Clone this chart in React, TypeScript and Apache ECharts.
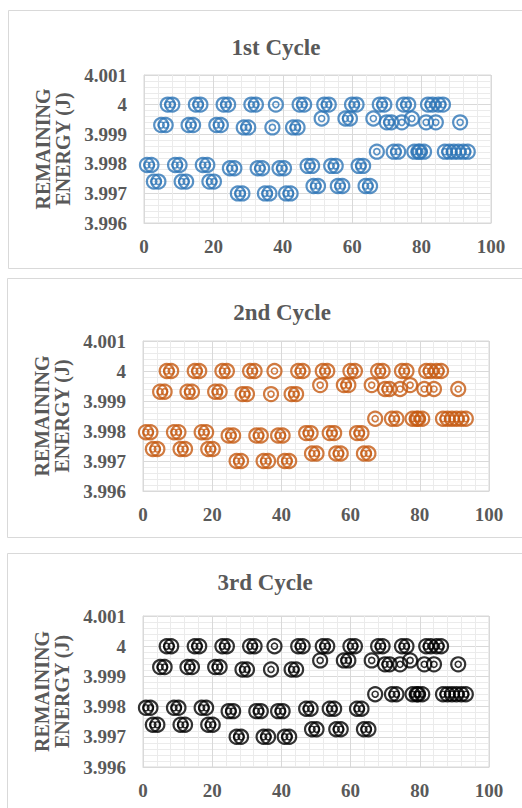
import React, { useEffect, useRef } from "react";
import * as echarts from "echarts";

const cycleTitles = ["1st Cycle", "2nd Cycle", "3rd Cycle"];
const cycleColors = ["#2E75B6", "#C55A11", "#000000"];
const yAxisName = "REMAINING\nENERGY (J)";

// point levels (remaining energy, J) and the x positions of the points on each
const levelA = 4.0;
const xsA = [6.85, 8.15, 14.95, 16.25, 22.95, 24.25, 30.95, 32.25, 38.0, 44.85, 46.15, 51.95, 53.25, 59.95, 61.25, 67.95, 69.25, 74.85, 76.15, 81.85, 83.15, 84.85, 86.15];
const levelB1 = 3.99931;
const xsB1 = [4.95, 6.25, 12.85, 14.15, 20.85, 22.15];
const levelB2 = 3.99923;
const xsB2 = [28.75, 30.05, 37.0, 42.95, 44.25];
const levelB3 = 3.99953;
const xsB3 = [51.2, 58.05, 59.35, 66.1, 77.2];
const levelB4 = 3.9994;
const xsB4 = [69.95, 71.25, 74.3, 81.3, 84.1, 91.1];
const levelF = 3.99841;
const xsF = [67.1, 71.95, 73.25, 77.9, 79.1, 79.5, 80.7, 86.7, 88.0, 89.3, 90.6, 92.0, 93.3];
const levelC1 = 3.99796;
const xsC1 = [0.85, 2.15, 8.95, 10.25, 16.95, 18.25];
const levelC2 = 3.99785;
const xsC2 = [24.75, 26.05, 32.75, 34.05, 39.05, 40.35];
const levelC3 = 3.99793;
const xsC3 = [47.15, 48.45, 53.95, 55.25, 61.85, 63.15];
const levelD1 = 3.9974;
const xsD1 = [2.85, 4.15, 10.85, 12.15, 18.85, 20.15];
const levelD2 = 3.99725;
const xsD2 = [48.85, 50.15, 55.85, 57.15, 63.85, 65.15];
const levelE = 3.997;
const xsE = [27.05, 28.35, 34.85, 36.15, 40.95, 42.25];

const yMin = 3.996;
const yMax = 4.001;
const yStep = 0.001;
const xMin = 0;
const xMax = 100;
const xStep = 20;

const levels: [number, number[]][] = [
  [levelA, xsA], [levelB1, xsB1], [levelB2, xsB2], [levelB3, xsB3], [levelB4, xsB4],
  [levelF, xsF], [levelC1, xsC1], [levelC2, xsC2], [levelC3, xsC3],
  [levelD1, xsD1], [levelD2, xsD2], [levelE, xsE],
];

const points: number[][] = [];
levels.forEach(([y, xs]) => xs.forEach((x) => points.push([x, y])));

const FONT = "'Liberation Serif', 'Times New Roman', serif";
const TXT = "#595959";

export default function App() {
  const ref = useRef<HTMLDivElement>(null);
  useEffect(() => {
    if (!ref.current) return;
    const chart = echarts.init(ref.current, undefined, { renderer: "svg" });
    const grids = [
      { left: 144, top: 75, width: 347, height: 148 },
      { left: 143, top: 341, width: 346, height: 150 },
      { left: 143, top: 616, width: 346, height: 151 },
    ];
    const panels = [
      { x: 8, y: 10, h: 258, tx: 276, ty: 47 },
      { x: 7, y: 278, h: 259, tx: 282, ty: 312 },
      { x: 7, y: 553, h: 280, tx: 265, ty: 582 },
    ];
    const graphic: any[] = [];
    panels.forEach((p, i) => {
      graphic.push({
        type: "rect",
        silent: true,
        shape: { x: p.x + 0.5, y: p.y + 0.5, width: 560, height: p.h },
        style: { fill: "#ffffff", stroke: "#d9d9d9", lineWidth: 1 },
        z: -10,
      });
      graphic.push({
        type: "text",
        x: p.tx,
        y: p.ty,
        style: {
          text: cycleTitles[i],
          fontFamily: FONT,
          fontWeight: "bold",
          fontSize: 23,
          fill: TXT,
          align: "center",
          verticalAlign: "middle",
        },
      });
    });
    const gridLine = { lineStyle: { color: "#d9d9d9", width: 1 } };
    const minorLine = { show: true, lineStyle: { color: "#ebebeb", width: 1 } };
    const xAxis = grids.map((_, i) => ({
      type: "value",
      gridIndex: i,
      min: xMin,
      max: xMax,
      interval: xStep,
      axisLine: { show: true, lineStyle: { color: "#d9d9d9" } },
      axisTick: { show: false },
      splitLine: { show: true, ...gridLine },
      minorTick: { show: false, splitNumber: 5 },
      minorSplitLine: minorLine,
      axisLabel: {
        color: TXT,
        fontFamily: FONT,
        fontWeight: "bold",
        fontSize: 19,
        margin: 14,
      },
    }));
    const yAxis = grids.map((_, i) => ({
      type: "value",
      gridIndex: i,
      min: yMin,
      max: yMax,
      interval: yStep,
      name: yAxisName,
      nameLocation: "middle",
      nameRotate: 90,
      nameGap: 71,
      nameTextStyle: {
        color: TXT,
        fontFamily: FONT,
        fontWeight: "bold",
        fontSize: 20,
        lineHeight: 20,
      },
      axisLine: { show: true, lineStyle: { color: "#d9d9d9" } },
      axisTick: { show: false },
      splitLine: { show: true, ...gridLine },
      minorTick: { show: false, splitNumber: 5 },
      minorSplitLine: minorLine,
      axisLabel: {
        color: TXT,
        fontFamily: FONT,
        fontWeight: "bold",
        fontSize: 19,
        margin: 17,
        formatter: (v: number) => String(Number(v.toFixed(3))),
      },
    }));
    const series: any[] = [];
    grids.forEach((_, i) => {
      series.push({
        type: "scatter",
        xAxisIndex: i,
        yAxisIndex: i,
        data: points,
        symbol: "circle",
        symbolSize: 14,
        silent: true,
        itemStyle: { color: "rgba(0,0,0,0)", borderColor: cycleColors[i], borderWidth: 2.2 },
      });
      series.push({
        type: "scatter",
        xAxisIndex: i,
        yAxisIndex: i,
        data: points,
        symbol: "circle",
        symbolSize: 6,
        silent: true,
        itemStyle: { color: "rgba(0,0,0,0)", borderColor: cycleColors[i], borderWidth: 1.6 },
      });
    });
    chart.setOption({
      animation: false,
      backgroundColor: "#ffffff",
      grid: grids.map((g) => ({ ...g, show: true, borderColor: "#d9d9d9", borderWidth: 1 })),
      xAxis,
      yAxis,
      series,
      graphic,
    });
    return () => chart.dispose();
  }, []);
  return (
    <div
      ref={ref}
      style={{ position: "absolute", left: 0, top: 0, width: 522, height: 808 }}
    />
  );
}
